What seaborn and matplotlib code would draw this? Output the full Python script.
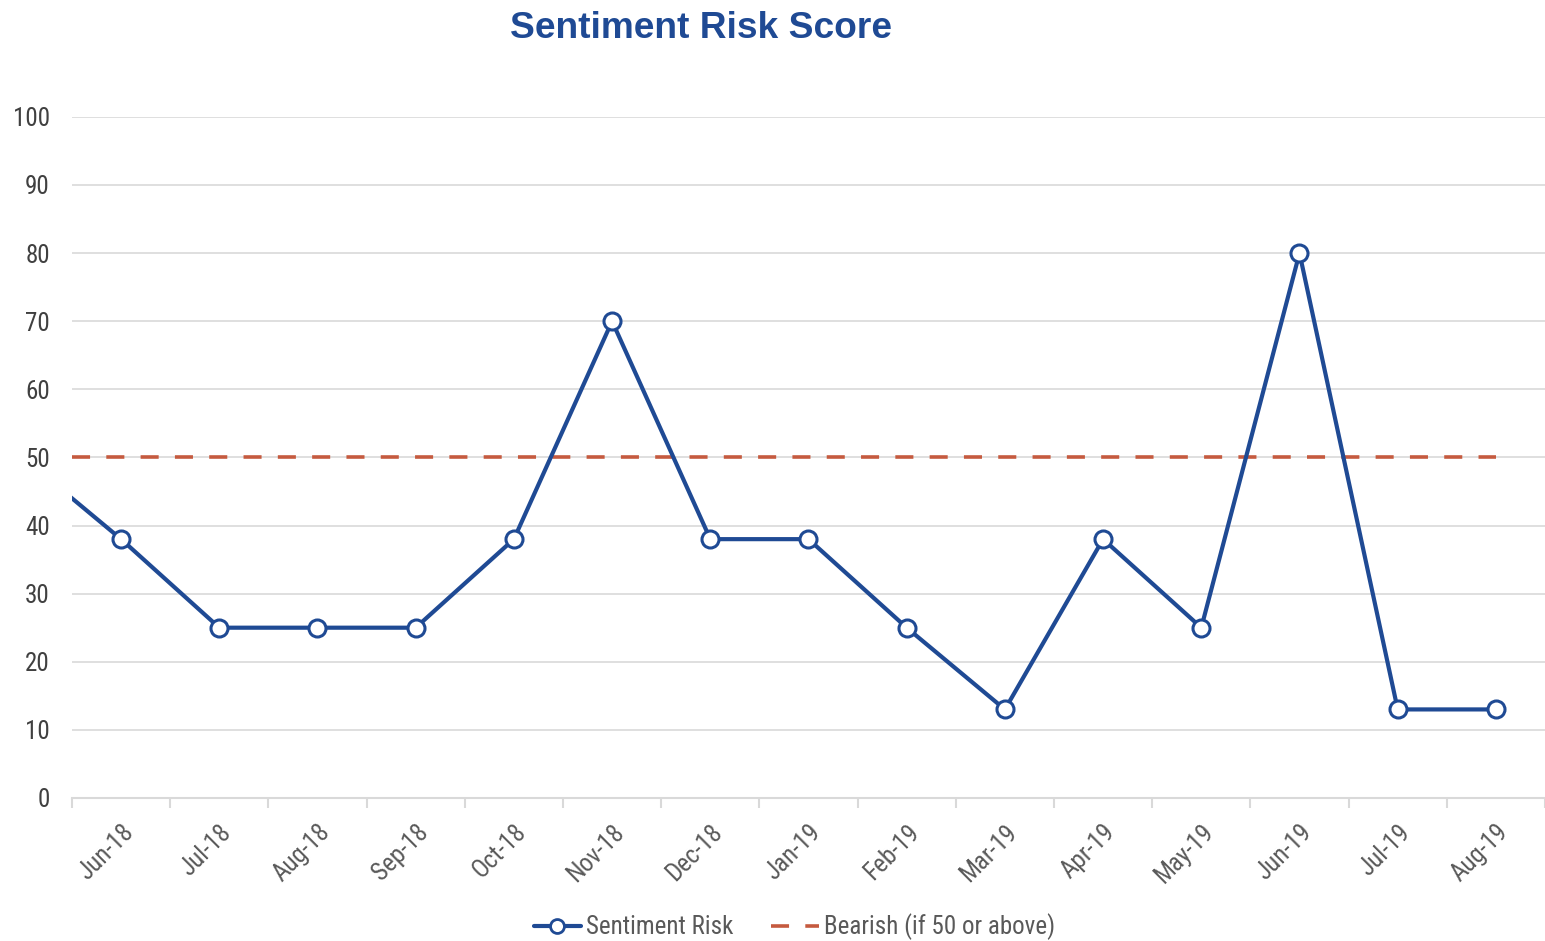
import numpy as np
import pandas as pd
import matplotlib
matplotlib.use("Agg")
import matplotlib.pyplot as plt
import seaborn as sns
from matplotlib import font_manager
from matplotlib.lines import Line2D

sns.set_theme(style="white")

# the reference uses a narrow sans; take one if the system has it
available = {f.name for f in font_manager.fontManager.ttflist}
narrow = next((n for n in ["Liberation Sans Narrow", "Arial Narrow", "Roboto Condensed",
                           "Open Sans Condensed", "DejaVu Sans Condensed"] if n in available), None)
plt.rcParams["font.family"] = ([narrow] if narrow else []) + ["Liberation Sans", "DejaVu Sans"]
scale = 1.0 if narrow else 0.88

# data
months = ["Jun-18", "Jul-18", "Aug-18", "Sep-18", "Oct-18", "Nov-18", "Dec-18",
          "Jan-19", "Feb-19", "Mar-19", "Apr-19", "May-19", "Jun-19", "Jul-19", "Aug-19"]
risk = [38, 25, 25, 25, 38, 70, 38, 38, 25, 13, 38, 25, 80, 13, 13]
prior_value = 50  # May-18, only visible as the line entering from the left edge
bearish_level = 50

BLUE = "#1F4A94"
RED = "#C55A3F"
GRID = "#D9D9D9"

df = pd.DataFrame({"pos": np.arange(-1, len(months)), "risk": [prior_value] + risk})

fig = plt.figure(figsize=(15.45, 9.41), dpi=100)
ax = fig.add_axes([0.0466, 0.152, 0.9534, 0.7238])

# bearish threshold
ax.plot([-0.5, len(months) - 1], [bearish_level] * 2, color=RED, lw=2.6,
        dashes=(5, 4.5), zorder=2)

sns.lineplot(data=df, x="pos", y="risk", ax=ax, color=BLUE, lw=3, zorder=3)
sns.scatterplot(data=df.iloc[1:], x="pos", y="risk", ax=ax, s=150, marker="o",
                facecolor="white", edgecolor=BLUE, linewidth=2.2, zorder=4)

ax.set_xlim(-0.494, 14.35)
ax.set_ylim(0, 100)
ax.set_yticks(range(0, 101, 10))
ax.yaxis.grid(True, color=GRID, lw=1.2)
ax.set_axisbelow(True)

ax.set_xticks(range(len(months)))
ax.set_xticklabels(months, rotation=45, ha="right", rotation_mode="anchor")
ax.set_xticks(np.arange(-0.5, len(months)), minor=True)
ax.tick_params(axis="x", which="both", bottom=True)
ax.tick_params(axis="x", which="major", length=0, pad=16, labelsize=18 * scale, colors="#595959")
ax.tick_params(axis="x", which="minor", length=7, width=1.5, color=GRID)
ax.tick_params(axis="y", length=0, pad=16, labelsize=18 * scale, colors="#404040")
ax.set_xlabel("")
ax.set_ylabel("")

for side in ["top", "right", "left"]:
    ax.spines[side].set_visible(False)
ax.spines["bottom"].set_color(GRID)
ax.spines["bottom"].set_linewidth(1.5)

fig.text(0.4535, 0.970, "Sentiment Risk Score", ha="center", va="center",
         fontsize=26.7, fontweight="bold", color="#1F4A94",
         family=["Liberation Sans", "DejaVu Sans"])

handles = [
    Line2D([], [], color=BLUE, lw=3, marker="o", markersize=10,
           markerfacecolor="white", markeredgecolor=BLUE, markeredgewidth=2),
    Line2D([], [], color=RED, lw=2.6, dashes=(5, 4.5)),
]
fig.legend(handles, ["Sentiment Risk", "Bearish (if 50 or above)"], loc="center",
           bbox_to_anchor=(0.514, 0.015), ncol=2, frameon=False, fontsize=18 * scale,
           labelcolor="#595959", handlelength=1.9, handletextpad=0.2, columnspacing=1.5)

fig.savefig("out.png", dpi=100)
